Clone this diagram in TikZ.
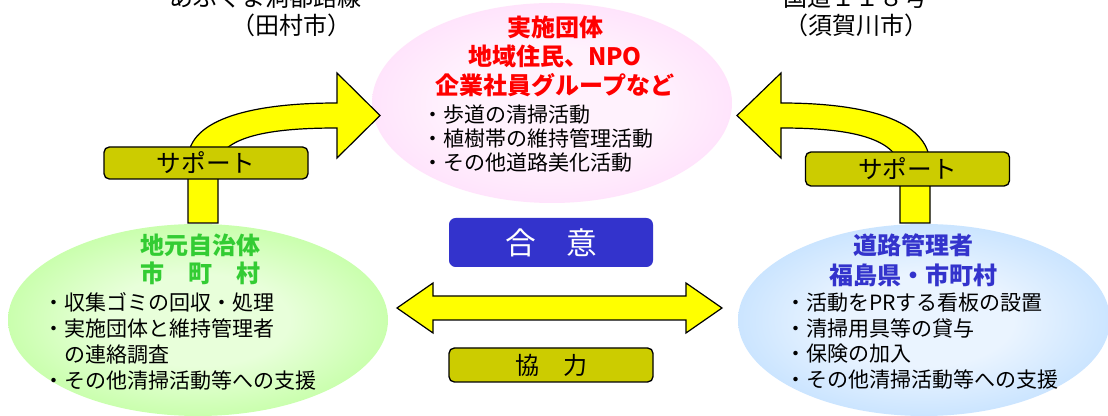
\documentclass[tikz,border=0pt]{standalone}
\usepackage{fontspec}
\setmainfont{Noto Sans CJK JP}
\usetikzlibrary{shapes.geometric}
\definecolor{arrowyellow}{HTML}{FFFF00}
\definecolor{boxolive}{HTML}{CCCC00}
\definecolor{agreeblue}{HTML}{3333CC}
\definecolor{titlered}{HTML}{FF0000}
\definecolor{titlegreen}{HTML}{33CC33}
\definecolor{titleblue}{HTML}{3333CC}
\definecolor{pinkin}{HTML}{FFF2FD}
\definecolor{pinkout}{HTML}{FFC4F8}
\definecolor{greenin}{HTML}{E8FFDA}
\definecolor{greenout}{HTML}{99FF66}
\definecolor{bluein}{HTML}{EAF4FF}
\definecolor{blueout}{HTML}{99CCFF}
\pgfdeclareradialshading{pinkshade}{\pgfpoint{0bp}{0bp}}{color(0bp)=(pinkin); color(14bp)=(pinkin); color(50bp)=(pinkout)}
\pgfdeclareradialshading{greenshade}{\pgfpoint{0bp}{0bp}}{color(0bp)=(greenin); color(12bp)=(greenin); color(46bp)=(greenout); color(50bp)=(greenout)}
\pgfdeclareradialshading{blueshade}{\pgfpoint{0bp}{0bp}}{color(0bp)=(bluein); color(12bp)=(bluein); color(46bp)=(blueout); color(50bp)=(blueout)}
\begin{document}
\begin{tikzpicture}[x=0.75pt,y=-0.75pt,
  blob/.style={ellipse, inner sep=0pt, draw=none},
  blockarrow/.style={fill=arrowyellow, draw=black, line width=0.9pt, line join=miter},
  olivebox/.style={rectangle, rounded corners=4pt, fill=boxolive, draw=black, line width=1pt,
     inner sep=0pt, minimum width=153pt, font=\fontsize{18.5}{22}\selectfont},
  bullets/.style={anchor=west, inner sep=0pt, align=left, text=black},
  titletext/.style={inner sep=0pt, align=center, font=\bfseries\fontsize{18}{21.75}\selectfont},
  toplabel/.style={inner sep=0pt, font=\fontsize{18}{22}\selectfont}
]
\useasboundingbox (0,0) rectangle (1108,416);
\clip (0,0) rectangle (1108,416);
\fill[white] (0,0) rectangle (1108,416);

% ellipses
\node[blob, minimum width=270pt, minimum height=150pt, shading=pinkshade] (pink) at (552,103) {};
\node[blob, minimum width=285pt, minimum height=144pt, shading=greenshade] (green) at (198,320) {};
\node[blob, minimum width=279pt, minimum height=144pt, shading=blueshade] (blue) at (924,320) {};

% top labels
\node[toplabel] (tl1) at (265,-3) {あぶくま洞都路線};
\node[toplabel] (tl2) at (291,25) {（田村市）};
\node[toplabel] (tr1) at (855,-3) {国道１１８号};
\node[toplabel] (tr2) at (856,25) {（須賀川市）};

% pink text
\node[titletext, text=titlered] (pinktitle) at (555,56) {実施団体\\地域住民、NPO\\企業社員グループなど};
\node[bullets, font=\fontsize{15.75}{18}\selectfont] (pinkbul) at (422,139)
  {・歩道の清掃活動\\・植樹帯の維持管理活動\\・その他道路美化活動};

% green text
\node[titletext, text=titlegreen, font=\bfseries\fontsize{18}{21}\selectfont] (greentitle) at (200,259) {地元自治体\\市　町　村};
\node[bullets, font=\fontsize{15.75}{19.5}\selectfont] (greenbul) at (43,341)
  {・収集ゴミの回収・処理\\・実施団体と維持管理者\\　の連絡調査\\・その他清掃活動等への支援};

% blue text
\node[titletext, text=titleblue, font=\bfseries\fontsize{18}{22.5}\selectfont] (bluetitle) at (913,260) {道路管理者\\福島県・市町村};
\node[bullets, font=\fontsize{15.75}{19.3}\selectfont] (bluebul) at (785,341)
  {・活動をPRする看板の設置\\・清掃用具等の貸与\\・保険の加入\\・その他清掃活動等への支援};

% left support arrow
\draw[blockarrow] (188,223) -- (188,160) .. controls (188,118) and (255,103) .. (337,103)
  -- (337,73) -- (380,115.5) -- (337,158) -- (337,128)
  .. controls (275,128) and (228,135) .. (218,160) -- (218,223) -- cycle;
\node[olivebox, minimum height=24pt] (supL) at (206,163) {サポート};

% right support arrow
\draw[blockarrow] (930,223) -- (930,165) .. controls (930,118) and (860,103) .. (781,103)
  -- (781,73) -- (737,115.5) -- (781,158) -- (781,128)
  .. controls (840,128) and (892,135) .. (900,165) -- (900,223) -- cycle;
\node[olivebox, minimum height=25.5pt] (supR) at (907.5,169) {サポート};

% agreement box
\node[rectangle, rounded corners=5pt, fill=agreeblue, inner sep=0pt, minimum width=153pt,
  minimum height=36.75pt, text=white, font=\fontsize{23}{27}\selectfont] (agree) at (551,242.5) {合　意};

% double arrow
\draw[blockarrow] (397,308) -- (433,283) -- (433,296) -- (686,296) -- (686,283) -- (722,308)
  -- (686,333) -- (686,320) -- (433,320) -- (433,333) -- cycle;

% cooperation box
\node[olivebox, minimum height=25.5pt, font=\fontsize{18}{22}\selectfont] (coop) at (551,365) {協　力};
\end{tikzpicture}
\end{document}
